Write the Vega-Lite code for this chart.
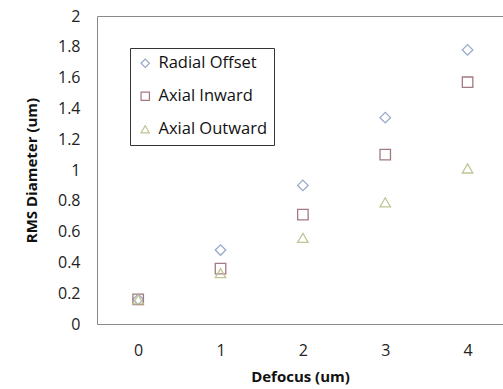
{
  "$schema": "https://vega.github.io/schema/vega-lite/v6.json",
  "width": 406,
  "height": 308,
  "autosize": "none",
  "padding": {"left": 97, "top": 16, "right": 0, "bottom": 65},
  "background": "white",
  "config": {
    "view": {"stroke": "#8a8a8a"},
    "font": "Open Sans"
  },
  "data": {
    "values": [
      {"defocus": 0, "series": "Radial Offset", "rms": 0.16},
      {"defocus": 1, "series": "Radial Offset", "rms": 0.48},
      {"defocus": 2, "series": "Radial Offset", "rms": 0.90},
      {"defocus": 3, "series": "Radial Offset", "rms": 1.34},
      {"defocus": 4, "series": "Radial Offset", "rms": 1.78},
      {"defocus": 0, "series": "Axial Inward", "rms": 0.16},
      {"defocus": 1, "series": "Axial Inward", "rms": 0.36},
      {"defocus": 2, "series": "Axial Inward", "rms": 0.71},
      {"defocus": 3, "series": "Axial Inward", "rms": 1.10},
      {"defocus": 4, "series": "Axial Inward", "rms": 1.57},
      {"defocus": 0, "series": "Axial Outward", "rms": 0.16},
      {"defocus": 1, "series": "Axial Outward", "rms": 0.33},
      {"defocus": 2, "series": "Axial Outward", "rms": 0.56},
      {"defocus": 3, "series": "Axial Outward", "rms": 0.79},
      {"defocus": 4, "series": "Axial Outward", "rms": 1.01}
    ]
  },
  "mark": {"type": "point", "filled": false, "size": 110, "strokeWidth": 1.3, "opacity": 1},
  "encoding": {
    "x": {
      "field": "defocus", "type": "quantitative",
      "scale": {"domain": [-0.5, 4.43], "nice": false, "zero": false},
      "axis": {
        "values": [0, 1, 2, 3, 4],
        "title": "Defocus (um)",
        "titleFont": "Open Sans", "titleFontSize": 15, "titleFontWeight": "bold", "titleColor": "#111",
        "titlePadding": 11,
        "labelFont": "Open Sans", "labelFontSize": 16, "labelColor": "#222", "labelPadding": 18,
        "labelOverlap": false, "ticks": false, "grid": false, "domain": false
      }
    },
    "y": {
      "field": "rms", "type": "quantitative",
      "scale": {"domain": [0, 2], "nice": false},
      "axis": {
        "values": [0, 0.2, 0.4, 0.6, 0.8, 1, 1.2, 1.4, 1.6, 1.8, 2],
        "format": "~g",
        "title": "RMS Diameter (um)",
        "titleFont": "Open Sans", "titleFontSize": 15, "titleFontWeight": "bold", "titleColor": "#111",
        "titlePadding": 18,
        "labelFont": "Open Sans", "labelFontSize": 16, "labelColor": "#222", "labelPadding": 17,
        "labelOverlap": false, "ticks": false, "grid": false, "domain": false
      }
    },
    "shape": {
      "field": "series", "type": "nominal",
      "scale": {"domain": ["Radial Offset", "Axial Inward", "Axial Outward"], "range": ["diamond", "square", "triangle-up"]},
      "legend": null
    },
    "color": {
      "field": "series", "type": "nominal",
      "scale": {"domain": ["Radial Offset", "Axial Inward", "Axial Outward"], "range": ["#97a9c9", "#a27a80", "#c2c596"]},
      "legend": {
        "title": null,
        "orient": "none",
        "legendX": 33,
        "legendY": 32,
        "strokeColor": "#333",
        "fillColor": "white",
        "padding": 7,
        "rowPadding": 16,
        "labelFont": "Open Sans",
        "labelFontSize": 16.5,
        "labelColor": "#111",
        "labelOffset": 5,
        "symbolSize": 70,
        "symbolStrokeWidth": 1.2,
        "symbolType": "circle"
      }
    }
  }
}
